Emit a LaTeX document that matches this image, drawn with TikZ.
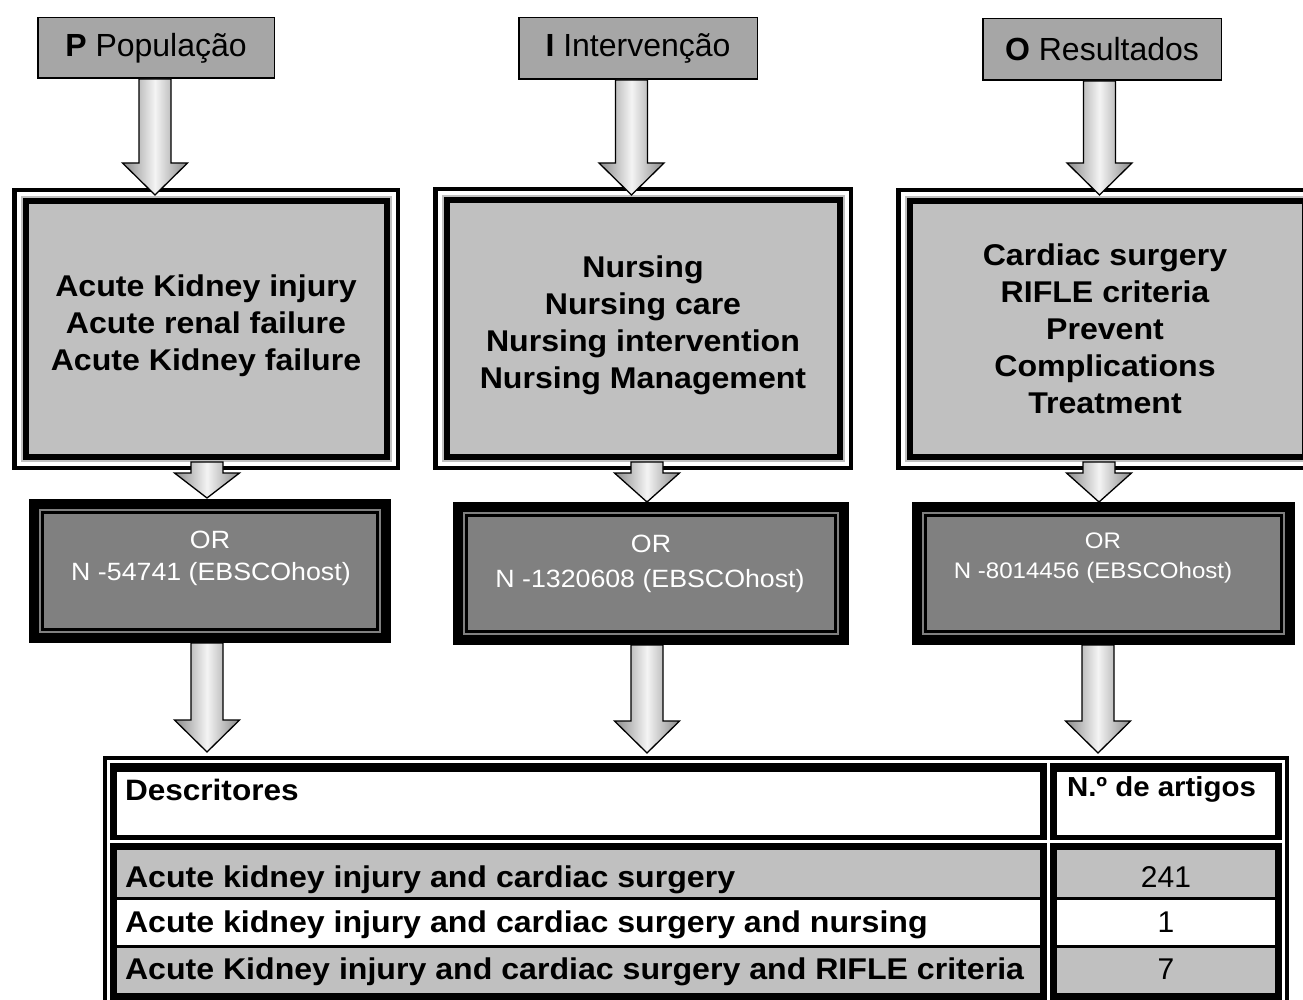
\documentclass[tikz,border=0pt]{standalone}
\usepackage{fontspec}
\setmainfont{Liberation Sans}
\newfontfamily\widesf{Liberation Sans}[FakeStretch=1.07]
\usetikzlibrary{calc}
\definecolor{topgray}{HTML}{A6A6A6}
\definecolor{boxgray}{HTML}{C0C0C0}
\definecolor{orgray}{HTML}{808080}
\definecolor{arrdark}{HTML}{8A8A8A}
\definecolor{arrlight}{HTML}{F4F4F4}
% block arrow: start coordinate, tip coordinate, head length
\newcommand\blockarrow[3]{%
  \path[blockarr] let \p1=#1, \p2=#2 in
    (\x1-16pt,\y1) -- (\x1+16pt,\y1) -- (\x1+16pt,\y2+#3) -- (\x1+32.5pt,\y2+#3)
    -- (\x1,\y2) -- (\x1-32.5pt,\y2+#3) -- (\x1-16pt,\y2+#3) -- cycle;}
% big framed box: name, cx, cy, w, h
\newcommand\bigbox[5]{%
  \node[bigouter, minimum width={#4pt-4.5pt}, minimum height={#5pt-4.5pt}] (#1o) at (#2,#3) {};
  \node[biggap, minimum width={#4pt-19pt}, minimum height={#5pt-19pt}] (#1g) at (#2,#3) {};
  \node[bigin, minimum width={#4pt-27pt}, minimum height={#5pt-27pt}] (#1) at (#2,#3) {};}
% OR box: name, cx, cy, w, h
\newcommand\orbox[5]{%
  \node[orouter, minimum width={#4pt-10pt}, minimum height={#5pt-10pt}] (#1) at (#2,#3) {};
  \node[orinner, minimum width={#4pt-27pt}, minimum height={#5pt-27pt}] (#1i) at (#2,#3) {};}
\begin{document}
\begin{tikzpicture}[x=1pt,y=-1pt,
  every node/.style={inner sep=0pt, outer sep=0pt},
  topbox/.style={draw=black, line width=1.5pt, fill=topgray, font=\fontsize{32}{38}\selectfont},
  blockarr/.style={draw=black, line width=1.3pt, line join=miter, left color=arrdark, right color=arrdark, middle color=arrlight},
  bigouter/.style={draw=black, line width=4.5pt, fill=white},
  biggap/.style={draw=boxgray, line width=2pt},
  bigin/.style={draw=black, line width=6pt, fill=boxgray},
  bigtext/.style={align=center, font=\widesf\bfseries\fontsize{30}{37}\selectfont},
  orouter/.style={draw=black, line width=10pt, fill=orgray},
  orinner/.style={draw=black, line width=2.5pt},
  ortext/.style={text=white, anchor=base, font=\widesf\fontsize{25}{30}\selectfont},
  tframe/.style={draw=black, line width=4pt},
  blk/.style={fill=black},
  cellw/.style={fill=white},
  cellg/.style={fill=boxgray},
  ttext/.style={anchor=base west, font=\widesf\bfseries\fontsize{30}{36}\selectfont},
  tnum/.style={anchor=base, font=\fontsize{30}{36}\selectfont}]
\useasboundingbox (0,0) rectangle (1303,1000);
\clip (0,0) rectangle (1303,1000);

% top boxes
\node[topbox, minimum width=236.5pt, minimum height=60.5pt] (ptop) at (156,48) {\textbf{P} População};
\node[topbox, minimum width=238.5pt, minimum height=61.5pt] (itop) at (638,48.5) {\textbf{I} Intervenção};
\node[topbox, minimum width=238.5pt, minimum height=61.5pt] (otop) at (1102,49.5) {\textbf{O} Resultados};

% big boxes
\bigbox{pbig}{206}{329}{388}{282}
\bigbox{ibig}{643}{328.5}{420}{283}
\bigbox{obig}{1107}{329}{422}{282}
\node[bigtext] (ptxt) at (206,326) {Acute Kidney injury\\Acute renal failure\\Acute Kidney failure};
\node[bigtext] (itxt) at (643,325) {Nursing\\Nursing care\\Nursing intervention\\Nursing Management};
\node[bigtext] (otxt) at (1105,329) {Cardiac surgery\\RIFLE criteria\\Prevent\\Complications\\Treatment};

% top arrows
\coordinate (a1s) at (155,79);   \coordinate (a1e) at (155,195);
\coordinate (a2s) at (631.5,80); \coordinate (a2e) at (631.5,195);
\coordinate (a3s) at (1099.5,81);\coordinate (a3e) at (1099.5,195);
\blockarrow{(a1s)}{(a1e)}{32pt}
\blockarrow{(a2s)}{(a2e)}{32pt}
\blockarrow{(a3s)}{(a3e)}{32pt}

% OR boxes
\orbox{por}{210}{571}{362}{144}
\orbox{ior}{651}{573.5}{396}{143}
\orbox{oor}{1103.5}{573.5}{383}{143}
\node[ortext] (por1) at (210,548) {OR};
\node[ortext] (por2) at (211,580) {N -54741 (EBSCOhost)};
\node[ortext] (ior1) at (651,552) {OR};
\node[ortext] (ior2) at (650,587) {N -1320608 (EBSCOhost)};
\node[ortext, font=\widesf\fontsize{22.5}{28}\selectfont] (oor1) at (1103,548) {OR};
\node[ortext, font=\widesf\fontsize{22.5}{28}\selectfont] (oor2) at (1093,578) {N -8014456 (EBSCOhost)};

% middle arrows
\coordinate (a4s) at (207,462);  \coordinate (a4e) at (207,498);
\coordinate (a5s) at (647,462);  \coordinate (a5e) at (647,502);
\coordinate (a6s) at (1099,462); \coordinate (a6e) at (1099,502);
\blockarrow{(a4s)}{(a4e)}{25pt}
\blockarrow{(a5s)}{(a5e)}{29pt}
\blockarrow{(a6s)}{(a6e)}{29pt}

% table
\node[tframe, minimum width=1182pt, minimum height=250pt] (tbl) at (696,883) {};
\node[blk, minimum width=937pt, minimum height=77pt] (hl) at (578.5,801.5) {};
\node[blk, minimum width=232pt, minimum height=77pt] (hr) at (1166,801.5) {};
\node[blk, minimum width=937pt, minimum height=164pt] (dl) at (578.5,925) {};
\node[blk, minimum width=232pt, minimum height=164pt] (dr) at (1166,925) {};
\node[cellw, minimum width=923pt, minimum height=63pt] (hlc) at (578.5,803.5) {};
\node[cellw, minimum width=218pt, minimum height=63pt] (hrc) at (1166,803.5) {};
\node[cellg, minimum width=923pt, minimum height=47pt] (r1l) at (578.5,873.5) {};
\node[cellw, minimum width=923pt, minimum height=45pt] (r2l) at (578.5,922.5) {};
\node[cellg, minimum width=923pt, minimum height=45pt] (r3l) at (578.5,970.5) {};
\node[cellg, minimum width=218pt, minimum height=47pt] (r1r) at (1166,873.5) {};
\node[cellw, minimum width=218pt, minimum height=45pt] (r2r) at (1166,922.5) {};
\node[cellg, minimum width=218pt, minimum height=45pt] (r3r) at (1166,970.5) {};
\node[ttext, font=\widesf\bfseries\fontsize{29.5}{36}\selectfont] (tdesc) at (125,800) {Descritores};
\node[ttext, font=\widesf\bfseries\fontsize{27.5}{34}\selectfont] (tart) at (1067,796) {N.º de artigos};
\node[ttext] (t1) at (125,887) {Acute kidney injury and cardiac surgery};
\node[ttext] (t2) at (125,932) {Acute kidney injury and cardiac surgery and nursing};
\node[ttext] (t3) at (125,979) {Acute Kidney injury and cardiac surgery and RIFLE criteria};
\node[tnum] (n1) at (1166,887) {241};
\node[tnum] (n2) at (1166,932) {1};
\node[tnum] (n3) at (1166,979) {7};

% bottom arrows
\coordinate (a7s) at (207,643);  \coordinate (a7e) at (207,752);
\coordinate (a8s) at (647,645);  \coordinate (a8e) at (647,753);
\coordinate (a9s) at (1098,645); \coordinate (a9e) at (1098,753);
\blockarrow{(a7s)}{(a7e)}{32pt}
\blockarrow{(a8s)}{(a8e)}{32pt}
\blockarrow{(a9s)}{(a9e)}{32pt}
\end{tikzpicture}
\end{document}
